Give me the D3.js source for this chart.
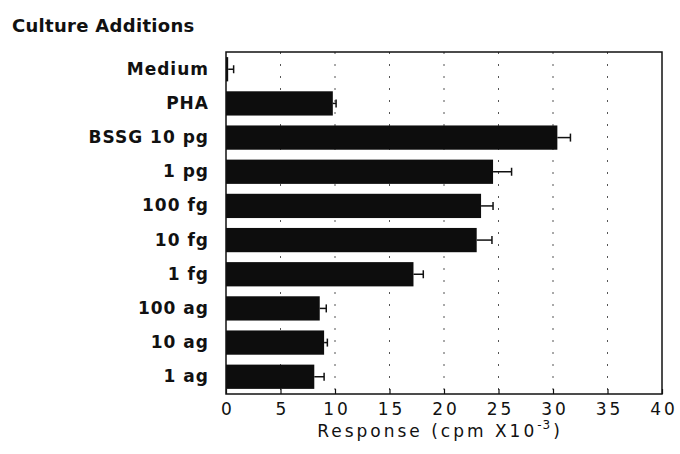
<!DOCTYPE html>
<html>
<head>
<meta charset="utf-8">
<script src="https://cdn.jsdelivr.net/npm/d3@7"></script>
<style>
  body { margin: 0; background: #fff; }
  text { font-family: "DejaVu Sans", sans-serif; fill: #111; }
</style>
</head>
<body>
<svg id="chart" width="680" height="454"></svg>
<script>
// Culture additions vs response

var categories = ["Medium", "PHA", "BSSG 10 pg", "1 pg", "100 fg", "10 fg",
                  "1 fg", "100 ag", "10 ag", "1 ag"];
var responses = [0.2, 9.8, 30.4, 24.5, 23.4, 23.0, 17.2, 8.6, 9.0, 8.1];
var errors    = [0.5, 0.3, 1.2, 1.7, 1.1, 1.4, 0.9, 0.6, 0.3, 0.9];
var xTicks = [0, 5, 10, 15, 20, 25, 30, 35, 40];

var svg = d3.select("#chart");
var plotL = 226, plotR = 662, plotT = 52, plotB = 394;

var x = d3.scaleLinear().domain([0, 40]).range([plotL, plotR]);
var y = d3.scaleBand().domain(categories).range([plotT, plotB])
  .paddingInner(0.29).paddingOuter(0.15);

// dashed grid
svg.append("g").selectAll("line")
  .data(xTicks.slice(1, -1))
  .enter().append("line")
  .attr("x1", function (d) { return x(d); })
  .attr("x2", function (d) { return x(d); })
  .attr("y1", plotT).attr("y2", plotB)
  .attr("stroke", "#555")
  .attr("stroke-width", 1)
  .attr("stroke-dasharray", "2,10");

// bars
var rows = categories.map(function (c, i) {
  return {name: c, value: responses[i], err: errors[i]};
});

svg.append("g").selectAll("rect")
  .data(rows)
  .enter().append("rect")
  .attr("x", x(0))
  .attr("y", function (d) { return y(d.name); })
  .attr("width", function (d) { return x(d.value) - x(0); })
  .attr("height", y.bandwidth())
  .attr("fill", "#0d0d0d");

// error bars
var mid = function (d) { return y(d.name) + y.bandwidth() / 2; };
var eb = svg.append("g").attr("stroke", "#111").attr("stroke-width", 1.5);
eb.selectAll("line.whisker")
  .data(rows)
  .enter().append("line")
  .attr("class", "whisker")
  .attr("x1", function (d) { return x(d.value); })
  .attr("x2", function (d) { return x(d.value + d.err); })
  .attr("y1", mid)
  .attr("y2", mid);
eb.selectAll("line.cap")
  .data(rows)
  .enter().append("line")
  .attr("class", "cap")
  .attr("x1", function (d) { return x(d.value + d.err); })
  .attr("x2", function (d) { return x(d.value + d.err); })
  .attr("y1", function (d) { return mid(d) - 4; })
  .attr("y2", function (d) { return mid(d) + 4; });

// frame
svg.append("rect")
  .attr("x", plotL).attr("y", plotT)
  .attr("width", plotR - plotL).attr("height", plotB - plotT)
  .attr("fill", "none").attr("stroke", "#111").attr("stroke-width", 1.5);

// x axis
var xAxis = d3.axisBottom(x).tickValues(xTicks).tickSize(-5).tickPadding(9)
  .tickFormat(d3.format("d"));
var gx = svg.append("g").attr("transform", "translate(0," + plotB + ")").call(xAxis);
gx.select(".domain").remove();
gx.selectAll(".tick line").attr("stroke", "#111").attr("stroke-width", 1.2);
gx.selectAll(".tick text")
  .attr("font-family", null)
  .attr("font-size", null)
  .style("font-size", "17px")
  .style("letter-spacing", "3px")
  .attr("dx", "1.5px")
  .attr("fill", "#111");

// category labels
var yAxis = d3.axisLeft(y).tickSize(0).tickPadding(17);
var gy = svg.append("g").attr("transform", "translate(" + plotL + ",0)").call(yAxis);
gy.select(".domain").remove();
gy.selectAll(".tick text")
  .attr("font-family", null)
  .attr("font-size", null)
  .style("font-size", "17px")
  .style("font-weight", "bold")
  .style("letter-spacing", "1px")
  .attr("fill", "#111");

// titles
svg.append("text")
  .attr("x", 12).attr("y", 32)
  .style("font-size", "18px")
  .style("font-weight", "bold")
  .style("letter-spacing", "0.3px")
  .text("Culture Additions");

var xt = svg.append("text")
  .attr("x", 440).attr("y", 437)
  .attr("text-anchor", "middle")
  .style("font-size", "17px")
  .style("letter-spacing", "3px");
xt.append("tspan").text("Response (cpm X10");
xt.append("tspan").attr("dy", -8).style("font-size", "12px").style("letter-spacing", "1px").text("-3");
xt.append("tspan").attr("dy", 8).attr("dx", 2).text(")");
</script>
</body>
</html>
